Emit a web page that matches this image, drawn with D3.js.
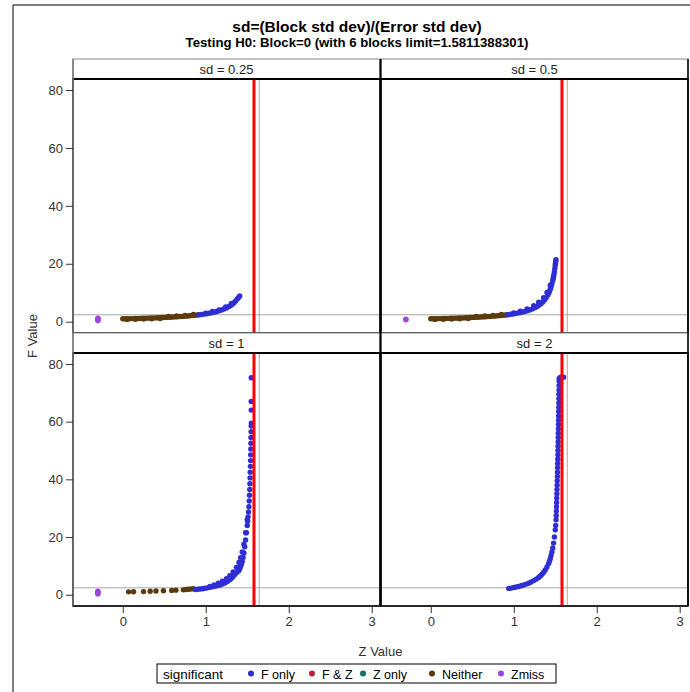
<!DOCTYPE html>
<html><head><meta charset="utf-8">
<script src="https://cdn.jsdelivr.net/npm/d3@7"></script>
<style>body{margin:0;background:#fff} svg{display:block;font-family:Arial,"Liberation Sans",sans-serif}</style>
</head><body><svg id="c" width="690" height="692"></svg>
<script>
// ---------- data ----------
const titleText = "sd=(Block std dev)/(Error std dev)";
const subtitleText = "Testing H0: Block=0 (with 6 blocks limit=1.5811388301)";
const panelLabels = ["sd = 0.25", "sd = 0.5", "sd = 1", "sd = 2"];
const xTicks = [0, 1, 2, 3];
const yTicks = [0, 20, 40, 60, 80];
const groups = ["F only", "F & Z", "Z only", "Neither", "Zmiss"];
const groupColors = ["#2E2ED4", "#C0213A", "#0E7463", "#5B3A0B", "#A044E0"];
const zLimit = 1.5811388301;
const zCrit = 1.645;
const fCrit = 2.4;

// sd = 0.25
const zmiss025 = [[-0.3,0.4],[-0.3,0.6],[-0.3,0.8],[-0.3,1.0],[-0.3,1.2]];
const neither025 = [[0.00,1.00],[0.03,1.02],[0.06,1.04],[0.09,1.06],[0.12,1.08],[0.15,1.10],[0.18,1.12],[0.21,1.15],[0.24,1.17],[0.27,1.20],[0.30,1.23],[0.33,1.26],[0.36,1.29],[0.39,1.32],[0.42,1.36],[0.45,1.40],[0.48,1.44],[0.51,1.48],[0.54,1.52],[0.57,1.56],[0.60,1.61],[0.63,1.66],[0.66,1.72],[0.69,1.78],[0.72,1.84],[0.75,1.91],[0.78,1.98],[0.81,2.05],[0.84,2.13],[0.87,2.22],[0.90,2.31],
  [0.05,0.8],[0.15,0.85],[0.25,0.9],[0.35,1.0],[0.45,1.1],[0.55,1.8],[0.65,2.0],[0.75,2.2],[0.85,2.5]];
const fonly025 = [[0.92,2.39],[0.95,2.51],[0.98,2.63],[1.01,2.77],[1.04,2.92],[1.07,3.09],[1.10,3.29],[1.13,3.50],[1.16,3.75],[1.19,4.04],[1.22,4.38],[1.25,4.77],[1.28,5.25],[1.30,5.62],[1.32,6.06],[1.34,6.56],[1.36,7.15],[1.38,7.86],[1.395,8.4],[1.41,8.9],
  [1.00,2.95],[1.08,3.5],[1.16,4.1],[1.24,5.1],[1.31,6.3]];

// sd = 0.5
const zmiss05 = [[-0.3,0.7],[-0.3,0.9]];
const neither05 = [[0.00,1.00],[0.03,1.02],[0.06,1.04],[0.09,1.06],[0.12,1.08],[0.15,1.10],[0.18,1.12],[0.21,1.15],[0.24,1.17],[0.27,1.20],[0.30,1.23],[0.33,1.26],[0.36,1.29],[0.39,1.32],[0.42,1.36],[0.45,1.40],[0.48,1.44],[0.51,1.48],[0.54,1.52],[0.57,1.56],[0.60,1.61],[0.63,1.66],[0.66,1.72],[0.69,1.78],[0.72,1.84],[0.75,1.91],[0.78,1.98],[0.81,2.05],[0.84,2.13],[0.87,2.22],[0.90,2.31],[0.92,2.38],
  [0.05,0.8],[0.15,0.85],[0.25,0.9],[0.35,1.0],[0.45,1.1],[0.55,1.8],[0.65,2.0],[0.75,2.2],[0.85,2.5]];
const fonly05 = [[0.93,2.43],[0.96,2.55],[0.99,2.67],[1.02,2.82],[1.05,2.98],[1.08,3.16],[1.11,3.36],[1.14,3.58],[1.17,3.85],[1.20,4.15],[1.23,4.50],[1.26,4.92],[1.29,5.43],[1.31,5.83],[1.33,6.30],[1.35,6.84],[1.37,7.48],[1.39,8.27],[1.41,9.24],[1.42,9.82],[1.43,10.47],[1.44,11.2],[1.45,12.1],[1.46,13.1],[1.47,14.2],[1.475,14.9],[1.48,15.6],[1.485,16.4],[1.49,17.3],[1.495,18.4],[1.50,19.5],[1.503,20.2],[1.506,20.9],[1.509,21.4],
  [1.00,3.0],[1.08,3.6],[1.16,4.4],[1.24,5.5],[1.30,6.7],[1.36,8.3],[1.40,10.1],[1.44,12.6]];

// sd = 1
const zmiss1 = [[-0.3,0.3],[-0.3,0.6],[-0.3,0.9],[-0.3,1.2]];
const neither1 = [[0.07,1.0],[0.13,1.05],[0.25,1.1],[0.33,1.2],[0.40,1.3],[0.49,1.4],[0.59,1.5],[0.64,1.6],[0.73,1.7],[0.76,1.8],[0.79,1.9],[0.82,2.0],[0.85,2.1]];
const fonly1 = [[0.875,1.8],[0.90,1.9],[0.93,2.0],[0.96,2.1],[0.99,2.25],[1.02,2.4],[1.05,2.6],[1.08,2.75],[1.11,2.95],[1.14,3.15],[1.17,3.4],[1.20,3.7],[1.23,4.1],[1.26,4.6],[1.29,5.2],[1.31,5.7],[1.33,6.3],[1.35,7.0],[1.37,7.6],[1.39,8.2],[1.40,8.5],[1.41,9.1],[1.42,9.8],[1.43,10.6],[1.44,11.5],[1.45,12.9],[1.46,14.5],[1.47,16.6],[1.48,19],[1.49,21.5],[1.50,24],[1.505,25.5],[1.51,27],[1.515,28.7],[1.52,30.5],[1.524,32.5],[1.527,34.5],[1.53,36.5],[1.532,38.5],[1.534,40.5],[1.536,42.5],[1.538,44.5],[1.54,46.5],[1.541,48.5],[1.543,50.5],[1.544,52.5],[1.545,54.5],[1.547,56.5],[1.548,58.5],[1.549,59.5],[1.548,64],[1.548,67],[1.548,75.2],
  [1.05,2.9],[1.10,3.4],[1.15,4.0],[1.20,4.7],[1.25,5.6],[1.29,6.6],[1.33,7.9],[1.37,9.5],[1.40,11.2],[1.42,12.8],[1.44,14.8],[1.46,17.5],[1.48,21.5],[1.50,26]];

// sd = 2
const fonly2 = [[0.94,2.2],[0.97,2.3],[1.00,2.5],[1.03,2.7],[1.06,2.9],[1.09,3.1],[1.12,3.4],[1.15,3.7],[1.18,4.0],[1.21,4.4],[1.24,4.9],[1.27,5.4],[1.30,6.0],[1.32,6.5],[1.34,7.1],[1.36,7.8],[1.38,8.6],[1.40,9.6],[1.42,10.8],[1.43,11.6],[1.44,12.5],[1.45,13.6],[1.46,14.8],[1.47,16.2],[1.48,17.9],[1.49,20],[1.50,22.5],[1.505,24],
  [1.510,26],[1.512,27.5],[1.514,29],[1.515,30.5],[1.517,32],[1.518,33.5],[1.520,35],[1.521,36.5],[1.523,38],[1.524,39.5],[1.526,41],[1.527,42.5],[1.528,44],[1.529,45.5],[1.531,47],[1.532,48.5],[1.533,50],[1.534,51.5],[1.535,53],[1.536,54.5],[1.537,56],[1.538,57.5],[1.539,59],[1.540,60.5],[1.541,62],[1.542,63.5],[1.543,65],[1.543,66.5],[1.544,68],[1.545,69.5],[1.546,71],[1.546,72.5],[1.547,74],[1.548,75],[1.56,75.3],[1.58,75.5],[1.60,75.4]];

const panels = [
  {label: panelLabels[0], col: 0, row: 0, series: [["Neither", neither025], ["F only", fonly025], ["Zmiss", zmiss025]]},
  {label: panelLabels[1], col: 1, row: 0, series: [["Neither", neither05], ["F only", fonly05], ["Zmiss", zmiss05]]},
  {label: panelLabels[2], col: 0, row: 1, series: [["Neither", neither1], ["F only", fonly1], ["Zmiss", zmiss1]]},
  {label: panelLabels[3], col: 1, row: 1, series: [["F only", fonly2]]}
];

// ---------- layout ----------
const svg = d3.select("#c");
const colX = [73, 381], colW = 307;
const hdrTop = [59, 333], hdrH = 20;
const plotTop = [79, 353], plotH = [254, 253];
const xDomain = [-0.6, 3.1], yDomain = [-3.9, 83.8];
const color = d3.scaleOrdinal().domain(groups).range(groupColors);
const FONT = "Arial,'Liberation Sans',sans-serif";

// outer frame
svg.append("line").attr("x1",13).attr("x2",13).attr("y1",5).attr("y2",692).attr("stroke","#000").attr("stroke-width",1);
svg.append("line").attr("x1",13).attr("x2",690).attr("y1",5).attr("y2",5).attr("stroke","#000").attr("stroke-width",1);

// titles
svg.append("text").attr("x",357).attr("y",32).attr("text-anchor","middle").attr("font-size",15.5).attr("font-weight","bold").attr("fill","#000").text(titleText);
svg.append("text").attr("x",357).attr("y",47).attr("text-anchor","middle").attr("font-size",13.2).attr("font-weight","bold").attr("fill","#000").text(subtitleText);

const xScales = colX.map(x0 => d3.scaleLinear().domain(xDomain).range([x0, x0 + colW]));
const yScales = plotTop.map((t, i) => d3.scaleLinear().domain(yDomain).range([t + plotH[i], t]));

panels.forEach(p => {
  const x = xScales[p.col], y = yScales[p.row];
  const x0 = colX[p.col], t = plotTop[p.row], h = plotH[p.row];
  const g = svg.append("g");
  const clipId = "clip" + p.col + p.row;
  g.append("clipPath").attr("id", clipId).append("rect").attr("x", x0).attr("y", t).attr("width", colW).attr("height", h);
  const pg = g.append("g").attr("clip-path", `url(#${clipId})`);
  pg.append("line").attr("x1", x0).attr("x2", x0 + colW).attr("y1", y(fCrit)).attr("y2", y(fCrit)).attr("stroke","#A8A8A8").attr("stroke-width",1);
  pg.append("line").attr("x1", x(zCrit)).attr("x2", x(zCrit)).attr("y1", t).attr("y2", t + h).attr("stroke","#A8A8A8").attr("stroke-width",1);
  p.series.forEach(([grp, pts]) => {
    pg.selectAll(null).data(pts).enter().append("circle")
      .attr("cx", d => x(d[0])).attr("cy", d => y(d[1])).attr("r", 2.7)
      .attr("fill", color(grp));
  });
  pg.append("line").attr("x1", x(zLimit)).attr("x2", x(zLimit)).attr("y1", t).attr("y2", t + h).attr("stroke","#FF0000").attr("stroke-width",3);
  g.append("rect").attr("x", x0).attr("y", hdrTop[p.row]).attr("width", colW).attr("height", hdrH).attr("fill","#fff").attr("stroke","#888").attr("stroke-width",1);
  g.append("text").attr("x", x0 + colW / 2).attr("y", hdrTop[p.row] + 15).attr("text-anchor","middle").attr("font-size",13).attr("fill","#222").text(p.label);
  g.append("rect").attr("x", x0).attr("y", t).attr("width", colW).attr("height", h).attr("fill","none").attr("stroke","#000").attr("stroke-width",1.5);
  g.append("line").attr("x1", x0).attr("x2", x0 + colW).attr("y1", hdrTop[p.row] + hdrH).attr("y2", hdrTop[p.row] + hdrH).attr("stroke","#000").attr("stroke-width",2);
});
svg.append("line").attr("x1",380.5).attr("x2",380.5).attr("y1",59).attr("y2",606).attr("stroke","#000").attr("stroke-width",2);
svg.append("line").attr("x1",73).attr("x2",73).attr("y1",59).attr("y2",606).attr("stroke","#777").attr("stroke-width",1.5);
svg.append("line").attr("x1",688).attr("x2",688).attr("y1",59).attr("y2",606).attr("stroke","#000").attr("stroke-width",1.5);

// axes
yScales.forEach(y => {
  const a = svg.append("g").attr("transform","translate(73,0)")
    .call(d3.axisLeft(y).tickValues(yTicks).tickSize(7).tickPadding(3).tickFormat(d3.format("d")));
  a.select(".domain").remove();
  a.selectAll("line").attr("stroke","#333");
  a.selectAll("text").attr("font-size",13).attr("fill","#333").attr("font-family",FONT);
});
xScales.forEach(x => {
  const a = svg.append("g").attr("transform","translate(0,606)")
    .call(d3.axisBottom(x).tickValues(xTicks).tickSize(7).tickPadding(4).tickFormat(d3.format("d")));
  a.select(".domain").remove();
  a.selectAll("line").attr("stroke","#333");
  a.selectAll("text").attr("font-size",13).attr("fill","#333").attr("font-family",FONT);
});
svg.append("line").attr("x1",73).attr("x2",688).attr("y1",606).attr("y2",606).attr("stroke","#222").attr("stroke-width",1.5);

// axis labels
svg.append("text").attr("x",380.5).attr("y",656).attr("text-anchor","middle").attr("font-size",13).attr("fill","#333").text("Z Value");
svg.append("text").attr("transform","translate(37,336) rotate(-90)").attr("text-anchor","middle").attr("font-size",13).attr("fill","#333").text("F Value");

// legend
const lg = svg.append("g");
lg.append("rect").attr("x",157).attr("y",664).attr("width",399).attr("height",19).attr("fill","#fff").attr("stroke","#000").attr("stroke-width",1);
lg.append("text").attr("x",163).attr("y",678.5).attr("font-size",13.5).attr("fill","#000").text("significant");
const legX = [251, 312, 363, 432, 501];
groups.forEach((gname, i) => {
  lg.append("circle").attr("cx", legX[i]).attr("cy", 673.5).attr("r", 3).attr("fill", color(gname));
  lg.append("text").attr("x", legX[i] + 10).attr("y", 678.5).attr("font-size",12.5).attr("fill","#000").text(gname);
});
</script></body></html>
